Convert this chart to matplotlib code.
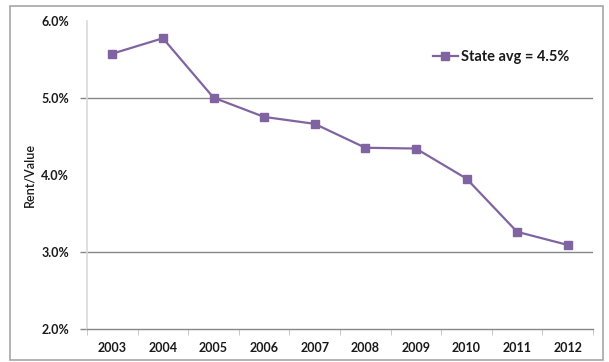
import matplotlib
matplotlib.use("Agg")
import matplotlib.pyplot as plt
from matplotlib.patches import Rectangle
from matplotlib.ticker import FuncFormatter, FixedLocator

# Dados
anos = ["2003", "2004", "2005", "2006", "2007", "2008", "2009", "2010", "2011", "2012"]
rent_value = [5.57, 5.77, 5.00, 4.75, 4.66, 4.35, 4.34, 3.95, 3.26, 3.09]
legenda = "State avg = 4.5%"
y_ticks = [2.0, 3.0, 4.0, 5.0, 6.0]

plt.rcParams["font.family"] = ["Lato", "DejaVu Sans"]
roxo = "#8064A2"
texto = "#1a1a1a"

fig = plt.figure(figsize=(6.09, 3.62), dpi=100)
W, H = 609, 362

# moldura externa
fig.patches.append(Rectangle((10 / W, 1 - 360 / H), (603 - 10) / W, (360 - 6) / H,
                             transform=fig.transFigure, fill=False,
                             edgecolor="#a6a6a6", linewidth=1.2))

ax = fig.add_axes([87 / W, 1 - 329 / H, (593 - 87) / W, (329 - 20.5) / H])

x = list(range(len(anos)))
ax.plot(x, rent_value, color=roxo, linewidth=1.6, marker="s", markersize=5.5,
        markerfacecolor=roxo, markeredgecolor=roxo, label=legenda)

ax.set_xlim(-0.5, len(anos) - 0.5)
ax.set_ylim(2.0, 6.0)

# grades só em 3% e 5%
for g in [3.0, 5.0]:
    ax.axhline(g, color="#868686", linewidth=1.0, zorder=0)

ax.set_yticks(y_ticks)
ax.yaxis.set_major_formatter(FuncFormatter(lambda v, p: f"{v:.1f}%"))
ax.tick_params(axis="y", length=5, width=1.0, color="#868686", pad=8,
               labelsize=9, labelcolor=texto)
for v, tk in zip(y_ticks, ax.yaxis.get_major_ticks()):
    if v in (4.0, 6.0):
        tk.tick1line.set_visible(False)
for lbl in ax.get_yticklabels():
    lbl.set_fontweight("bold")

ax.set_xticks(x)
ax.set_xticklabels(anos, fontweight="bold", fontsize=9, color=texto)
ax.tick_params(axis="x", which="major", length=0, pad=9)
ax.xaxis.set_minor_locator(FixedLocator([i - 0.5 for i in range(len(anos) + 1)]))
ax.tick_params(axis="x", which="minor", length=4, color="#bfbfbf", direction="out")

for s in ["top", "right"]:
    ax.spines[s].set_visible(False)
ax.spines["left"].set_color("#d9d9d9")
ax.spines["left"].set_linewidth(1.2)
ax.spines["bottom"].set_color("#868686")
ax.spines["bottom"].set_linewidth(1.0)

ax.set_ylabel("Rent/Value", fontsize=9, fontweight="semibold", color=texto)
ax.yaxis.set_label_coords(-52 / 506, 0.5)

fig.legend(loc="center left", bbox_to_anchor=(433 / W, 1 - 57 / H), frameon=False,
           handlelength=1.7, handletextpad=0.2, borderpad=0, borderaxespad=0,
           prop={"weight": "bold", "size": 10.5})
for t in fig.legends[0].get_texts():
    t.set_color(texto)

fig.savefig("out.png", dpi=100)
